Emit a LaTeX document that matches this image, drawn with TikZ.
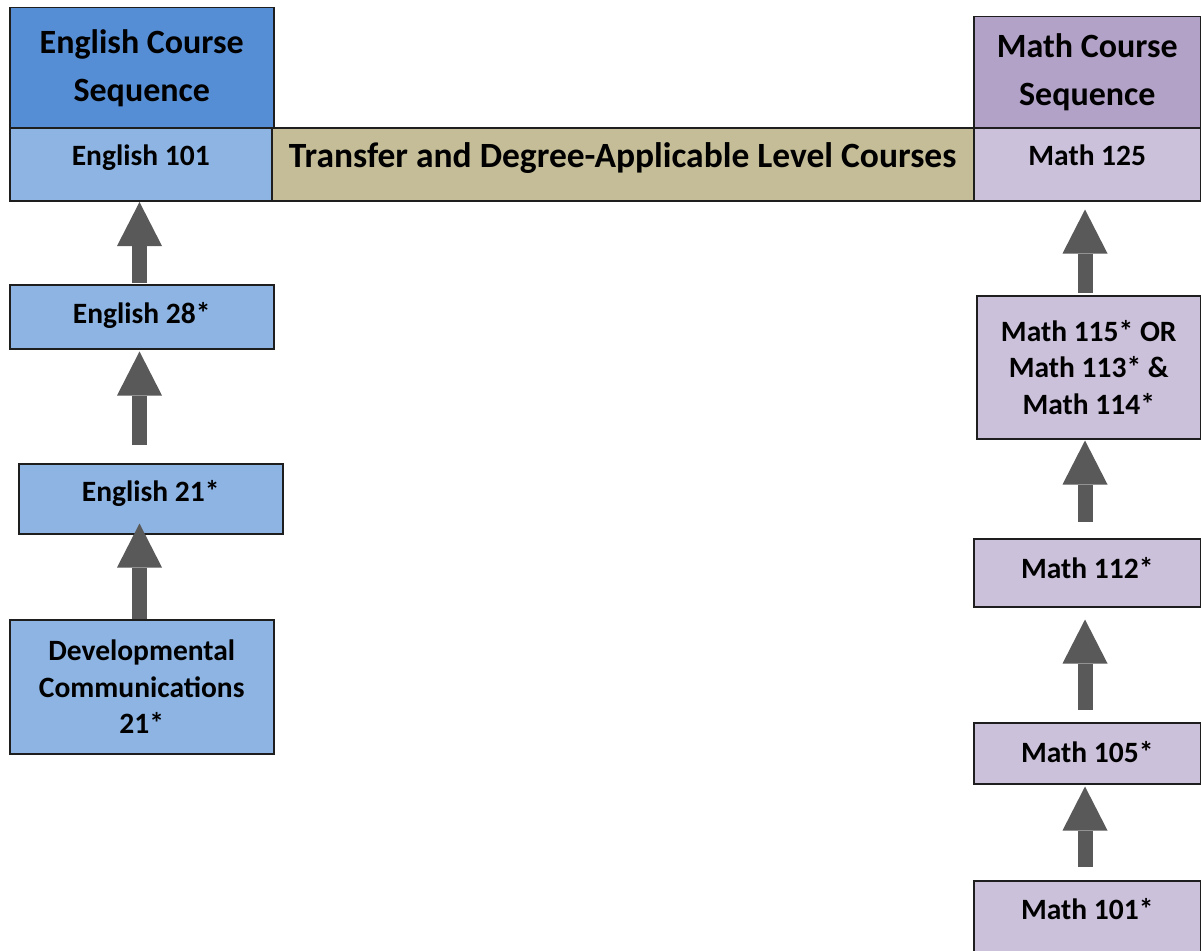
\documentclass[tikz,border=0pt]{standalone}
\usepackage{fontspec}
\setmainfont{Carlito}
\usetikzlibrary{arrows.meta,calc}
\definecolor{engHead}{RGB}{85,142,213}
\definecolor{engLight}{RGB}{141,180,226}
\definecolor{transferC}{RGB}{196,189,151}
\definecolor{mathHead}{RGB}{179,162,199}
\definecolor{mathLight}{RGB}{204,193,218}
\definecolor{arrowC}{RGB}{89,89,89}
\definecolor{borderC}{RGB}{30,30,30}
\tikzset{
  box/.style={draw=borderC, line width=1.5pt, rectangle, inner sep=0pt, anchor=north west,
    font=\bfseries\fontsize{29.5}{36.5}\selectfont},
  multi/.style={align=center},
  head/.style={box, align=center, font=\bfseries\fontsize{34}{48}\selectfont},
  tv/.style 2 args={text height=#1pt, text depth=#2pt},
  eng/.style={box, fill=engLight},
  mth/.style={box, fill=mathLight},
  barrow/.style={draw=arrowC, line width=15pt, -{Triangle[length=44pt,width=45pt,line width=0pt]}},
}
\begin{document}
\begin{tikzpicture}[x=1pt,y=-1pt]
\useasboundingbox[fill=white] (0,0) rectangle (1201,950);
% headers
\node[head, fill=engHead, minimum width=264pt, minimum height=120pt] (ehead) at (9,7) {English Course\\Sequence};
\node[head, fill=mathHead, minimum width=227pt, minimum height=111pt] (mhead) at (973,16) {Math Course\\Sequence};
% top row
\node[eng, tv={13}{11.4}, minimum width=262pt, minimum height=73pt] (e101) at (9,127) {English 101};
\node[box, fill=transferC, font=\bfseries\fontsize{35.5}{40}\selectfont, tv={16}{9.4}, minimum width=702pt, minimum height=73pt] (tr) at (271,127) {Transfer and Degree-Applicable Level Courses};
\node[mth, tv={13}{11.4}, minimum width=227pt, minimum height=73pt] (m125) at (973,127) {Math 125};
% English column
\node[eng, tv={16}{2.4}, minimum width=264pt, minimum height=64pt] (e28) at (9,284) {English 28*};
\node[eng, tv={14}{9.4}, minimum width=264pt, minimum height=70pt] (e21) at (18,463) {English 21*};
\node[eng, multi, minimum width=264pt, minimum height=134pt] (dev) at (9,619) {Developmental\\Communications\\21*};
% Math column
\node[mth, multi, minimum width=224pt, minimum height=143pt] (m115) at (976,295) {Math 115* OR\\Math 113* \&\\Math 114*};
\node[mth, tv={16}{5.4}, minimum width=227pt, minimum height=68pt] (m112) at (973,538) {Math 112*};
\node[mth, tv={19}{0.4}, minimum width=227pt, minimum height=61pt] (m105) at (973,722) {Math 105*};
\node[mth, tv={10}{13.4}, minimum width=227pt, minimum height=80pt] (m101) at (973,880) {Math 101*};
% arrows
\coordinate (ex) at (139.5,0);
\coordinate (mx) at (1085,0);
\draw[barrow] ($(ex|-e28.north)+(0,-1)$) -- ($(ex|-e101.south)+(0,0.5)$);
\draw[barrow] ($(ex|-e21.north)+(0,-18)$) -- ($(ex|-e28.south)+(0,2)$);
\draw[barrow] (ex|-dev.north) -- ($(ex|-e21.south)+(0,-11)$);
\draw[barrow] ($(mx|-m115.north)+(0,-2)$) -- ($(mx|-m125.south)+(0,8)$);
\draw[barrow] ($(mx|-m112.north)+(0,-16)$) -- ($(mx|-m115.south)+(0,1)$);
\draw[barrow] ($(mx|-m105.north)+(0,-12)$) -- ($(mx|-m112.south)+(0,12)$);
\draw[barrow] ($(mx|-m101.north)+(0,-13)$) -- ($(mx|-m105.south)+(0,2)$);
\end{tikzpicture}
\end{document}
